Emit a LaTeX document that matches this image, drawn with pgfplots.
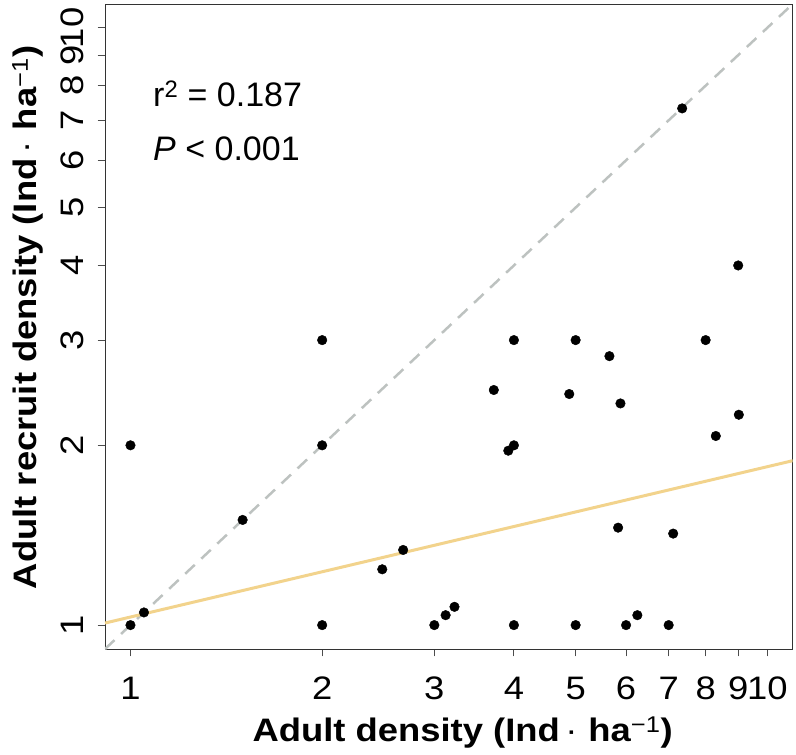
\documentclass[border=0pt]{standalone}
\usepackage{pgfplots}
\pgfplotsset{compat=1.18}
\usepackage{fontspec}
\setmainfont{Liberation Sans}[FakeStretch=1.12]
\newfontfamily\annfont{Liberation Sans}
\definecolor{fitc}{RGB}{242,211,140}
\definecolor{onec}{RGB}{189,194,192}
\begin{document}
\begin{tikzpicture}
\begin{axis}[
  scale only axis, width=687.7pt, height=645pt,
  xmode=log, ymode=log,
  xmin=0.912, xmax=10.96, ymin=0.912, ymax=10.96,
  axis line style={black!80, line width=0.9pt},
  xtick={1,2,3,4,5,6,7,8,9,10},
  ytick={1,2,3,4,5,6,7,8,9,10},
  log ticks with fixed point,
  /pgf/number format/assume math mode=true,
  /pgf/number format/precision=1,
  xminorticks=false, yminorticks=false,
  tick align=outside, major tick length=7.5pt,
  tick style={black!70, line width=0.9pt},
  xtick pos=bottom, ytick pos=left,
  tick label style={font=\fontsize{32.5}{38}\selectfont, text=black},
  xticklabel style={anchor=base, inner sep=0pt},
  yticklabel style={rotate=90, anchor=base, inner sep=0pt},
  xticklabel shift=43pt, yticklabel shift=14pt,
  xlabel={\textbf{Adult density (Ind}\,·\,\,\textbf{ha}\textsuperscript{−1}\textbf{)}},
  ylabel={\textbf{Adult recruit density (Ind}\,·\,\,\textbf{ha}\textsuperscript{−1}\textbf{)}},
  xlabel style={font=\fontsize{32.5}{38}\selectfont, at={(axis description cs:0.52,-0.1437)}, anchor=base, inner sep=0pt},
  ylabel style={font=\fontsize{32.5}{38}\selectfont, at={(axis description cs:-0.0989,0.514)}, anchor=base, inner sep=0pt},
  clip=true,
]
\addplot[onec, line width=2.5pt, dash pattern=on 13pt off 9pt] coordinates {(0.912,0.912) (10.96,10.96)};
\addplot[fitc, line width=3pt] coordinates {(0.912,1.008) (10.96,1.885)};
\addplot[only marks, mark=*, mark size=4.8pt, black] coordinates {
(1,2) (1,1) (1.05,1.05) (1.5,1.5) (2,2) (2,1) (2,3) (2.485,1.24) (2.68,1.336)
(3,1) (3.125,1.039) (3.227,1.073) (4,1) (5,1) (6,1) (6.25,1.039) (7,1)
(5.83,1.456) (7.115,1.423) (3.92,1.959) (4,2) (3.72,2.475) (4.886,2.437)
(5.88,2.35) (8.30,2.073) (9.02,2.25) (4,3) (5,3) (5.65,2.82) (8,3) (9,4) (7.35,7.33)
};
\node[anchor=base west, inner sep=0pt, font=\annfont\fontsize{34}{40}\selectfont] at (rel axis cs:0.0698,0.8408) {r\textsuperscript{2} = 0.187};
\node[anchor=base west, inner sep=0pt, font=\annfont\fontsize{34}{40}\selectfont] at (rel axis cs:0.0698,0.7581) {\textit{P} < 0.001};
\coordinate (bl) at (rel axis cs:0,0);
\coordinate (tr) at (rel axis cs:1,1);
\end{axis}
\pgfresetboundingbox
\path ([xshift=-105pt,yshift=-105pt]bl) rectangle ([xshift=3.3pt,yshift=4pt]tr);
\end{tikzpicture}
\end{document}
